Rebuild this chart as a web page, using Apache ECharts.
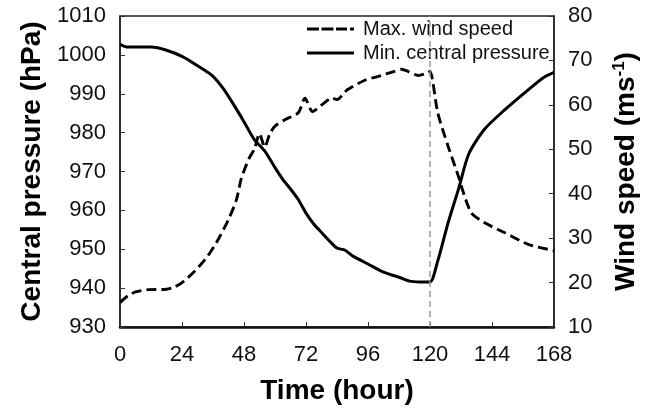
<!DOCTYPE html>
<html>
<head>
<meta charset="utf-8">
<script src="https://cdn.jsdelivr.net/npm/echarts@6/dist/echarts.min.js"></script>
<style>html,body{margin:0;padding:0;background:#fff}#c{width:655px;height:410px}</style>
</head>
<body>
<div id="c"></div>
<script>
var xTicks = [0, 24, 48, 72, 96, 120, 144, 168];
var pressTime = [0, 3, 12, 18, 24, 30, 36, 40, 44, 48, 52, 56, 60, 63, 66, 69, 72, 75, 78, 81, 84, 87, 90, 96, 102, 108, 112, 116, 120, 123, 127, 131, 135, 141, 149, 158, 164, 168];
var pressure = [1002.7, 1002, 1002, 1001.2, 999.6, 997.2, 994.5, 991.3, 987.2, 982.8, 978.2, 975.3, 971.0, 968, 965.5, 962.8, 959.3, 956.5, 954.3, 952.2, 950.3, 949.8, 948.3, 946.2, 944.1, 942.8, 941.8, 941.6, 941.6, 947, 956.8, 965.4, 974.5, 980.8, 985.9, 991, 994.2, 995.5];
var windTime = [0, 3, 6, 11, 18, 21, 24, 29, 34, 38, 42, 45, 47, 50, 52, 54, 56, 58, 60, 64, 69, 71.6, 74.5, 79, 82, 84, 88, 95, 100, 106, 109, 111.6, 115.5, 119, 120, 123, 127, 131, 132.5, 136, 141, 149, 158, 168];
var windSpeed = [15.5, 17, 17.9, 18.4, 18.5, 19, 20, 22.6, 26, 29.7, 34.2, 38.5, 43.5, 48, 50, 53.5, 50.5, 53.5, 55.2, 56.7, 58.2, 61.5, 58.5, 60.4, 61.5, 61.2, 63.4, 65.6, 66.4, 67.5, 68, 67.5, 66.6, 67.2, 67.5, 58.2, 50.7, 43.9, 41, 35.7, 33.5, 31.2, 28.6, 27.2];
var landfallTime = 120;

var FONT = '"Liberation Sans", Arial, sans-serif';
var pressData = pressTime.map(function (t, i) { return [t, pressure[i]]; });
var windData = windTime.map(function (t, i) { return [t, windSpeed[i]]; });
var plain = function (v) { return String(v); };

var chart = echarts.init(document.getElementById('c'), null, {renderer: 'canvas'});
chart.setOption({
  animation: false,
  backgroundColor: '#fff',
  textStyle: {fontFamily: FONT},
  grid: {left: 120, right: 101, top: 16, bottom: 82, show: true, borderColor: '#222', borderWidth: 1.5, backgroundColor: 'transparent'},
  legend: {
    orient: 'vertical', left: 307, top: 19, padding: 0, itemGap: 4,
    itemWidth: 47, itemHeight: 14,
    textStyle: {fontFamily: FONT, fontSize: 20, color: '#111', lineHeight: 20, padding: [0, 0, 0, 4]},
    data: [
      {name: 'Max. wind speed', icon: 'path://M0,0h12v3h-12z M14.5,0h12v3h-12z M29,0h11v3h-11z M43,0h4v3h-4z'},
      {name: 'Min. central pressure', icon: 'path://M0,0h47v3h-47z'}
    ]
  },
  xAxis: {
    type: 'value', min: 0, max: 168, interval: 24,
    name: 'Time (hour)', nameLocation: 'middle', nameGap: 50,
    nameTextStyle: {fontFamily: FONT, fontSize: 28, fontWeight: 'bold', color: '#000'},
    axisLine: {lineStyle: {color: '#111', width: 2.5}},
    axisTick: {inside: true, length: 5, lineStyle: {color: '#333', width: 1}},
    axisLabel: {fontFamily: FONT, fontSize: 22, color: '#111', margin: 17, formatter: plain},
    splitLine: {show: false}
  },
  yAxis: [{
    type: 'value', min: 930, max: 1010, interval: 10, position: 'left',
    name: 'Central pressure (hPa)', nameLocation: 'middle', nameGap: 73, nameRotate: 90,
    nameTextStyle: {fontFamily: FONT, fontSize: 28, fontWeight: 'bold', color: '#000'},
    axisLine: {show: true, lineStyle: {color: '#222', width: 1.5}},
    axisTick: {show: true, inside: true, length: 5, lineStyle: {color: '#333', width: 1}},
    axisLabel: {fontFamily: FONT, fontSize: 22, color: '#111', margin: 14, formatter: plain},
    splitLine: {show: false}
  }, {
    type: 'value', min: 10, max: 80, interval: 10, position: 'right',
    name: '{a|Wind speed (ms}{s|-1}{a|)}', nameLocation: 'middle', nameGap: 57, nameRotate: 90,
    nameTextStyle: {
      fontFamily: FONT, fontSize: 28, fontWeight: 'bold', color: '#000',
      rich: {
        a: {fontFamily: FONT, fontSize: 28, fontWeight: 'bold', color: '#000'},
        s: {fontFamily: FONT, fontSize: 17, fontWeight: 'bold', color: '#000', verticalAlign: 'top', padding: [0, 0, 14, 0]}
      }
    },
    axisLine: {show: true, lineStyle: {color: '#222', width: 1.5}},
    axisTick: {show: true, inside: true, length: 5, lineStyle: {color: '#333', width: 1}},
    axisLabel: {fontFamily: FONT, fontSize: 22, color: '#111', margin: 14, formatter: plain},
    splitLine: {show: false}
  }],
  series: [{
    name: 'Max. wind speed', type: 'line', yAxisIndex: 1, data: windData,
    symbol: 'none', smooth: 0.25,
    lineStyle: {color: '#000', width: 2.9, type: [10, 5]},
    itemStyle: {color: '#000'},
    markLine: {
      silent: true, symbol: 'none', label: {show: false},
      lineStyle: {color: '#999', width: 1.5, type: [6, 4]},
      data: [{xAxis: landfallTime}]
    },
    z: 3
  }, {
    name: 'Min. central pressure', type: 'line', yAxisIndex: 0, data: pressData,
    symbol: 'none', smooth: 0.25,
    lineStyle: {color: '#000', width: 3},
    itemStyle: {color: '#000'},
    z: 3
  }]
});
</script>
</body>
</html>
